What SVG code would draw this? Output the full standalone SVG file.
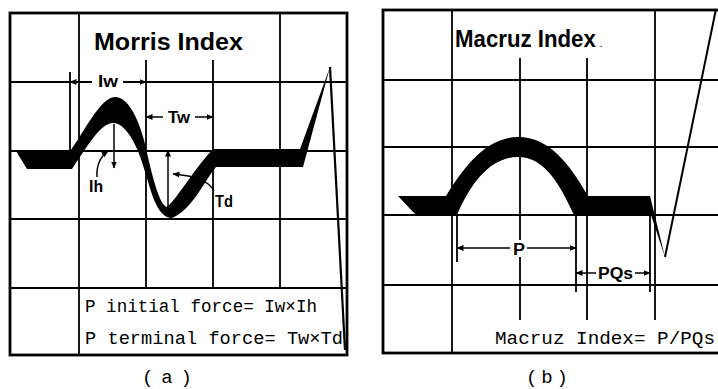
<svg xmlns="http://www.w3.org/2000/svg" width="718" height="389" viewBox="0 0 718 389">
<style>
.g{stroke:#000;stroke-width:1.8;fill:none}
.b{stroke:#000;stroke-width:2.8;fill:none}
.t{stroke:#000;stroke-width:1.5;fill:none}
.w{fill:#000;stroke:none}
.ttl{font-family:"Liberation Sans",Arial,sans-serif;font-weight:bold;font-size:23px;fill:#000}
.lb{font-family:"Liberation Sans",Arial,sans-serif;font-weight:bold;font-size:16px;fill:#000}
.mn{font-family:"Liberation Mono","Courier New",monospace;font-size:19px;fill:#000}
</style>
<defs>
<marker id="ah" markerUnits="userSpaceOnUse" markerWidth="7" markerHeight="6" refX="6.5" refY="3" orient="auto"><path d="M0,0 L7,3 L0,6 z" fill="#000"/></marker>
</defs>
<rect width="718" height="389" fill="#fff"/>

<g id="panel-a">
<g id="grid-a">
<rect class="b" x="10" y="13" width="337" height="342"/>
<path class="g" d="M10,82H347M10,151H347M10,219H347M10,288H347M79,13V355M146,60V288M213,60V288M280,13V288M70,72V151"/>
</g>
<g id="wave-a">
<path class="w" d="M16,151 L70,151 C82,136 100,97 115,97 C128,97 138,118 144,140 C150,165 158,205 167,207 C176,200 195,168 213,149 L300,149 L330,67 L303,167 L216,167 C205,180 192,210 172,218 C158,218 152,195 146,175 C140,152 128,123 113,123 C100,123 85,150 72,169 L27,169 Z"/>
<path d="M330,67 L345,350" stroke="#000" stroke-width="2.2" fill="none"/>
</g>
<g id="connectors-a">
<rect x="92" y="75" width="31" height="14" fill="#fff"/>
<line class="t" x1="92" y1="82" x2="70" y2="82" marker-end="url(#ah)"/>
<line class="t" x1="123" y1="82" x2="146" y2="82" marker-end="url(#ah)"/>
<line class="t" x1="163" y1="117" x2="146" y2="117" marker-end="url(#ah)"/>
<line class="t" x1="195" y1="117" x2="213" y2="117" marker-end="url(#ah)"/>
<line class="t" x1="114" y1="124" x2="114" y2="168" marker-end="url(#ah)"/>
<line class="t" x1="168" y1="213" x2="168" y2="150" marker-end="url(#ah)"/>
<path class="t" d="M97,177 Q96,160 108,151" marker-end="url(#ah)"/>
<path class="t" d="M214,191 C208,180 195,176 173,174" marker-end="url(#ah)"/>
</g>
<g id="labels-a">
<text class="ttl" x="94" y="50" textLength="149" lengthAdjust="spacingAndGlyphs">Morris Index</text>
<text class="lb" x="98" y="87" textLength="20" lengthAdjust="spacingAndGlyphs">Iw</text>
<text class="lb" x="168" y="123" textLength="22" lengthAdjust="spacingAndGlyphs">Tw</text>
<text class="lb" x="89" y="192" textLength="14" lengthAdjust="spacingAndGlyphs">Ih</text>
<text class="lb" x="215" y="207" textLength="18" lengthAdjust="spacingAndGlyphs">Td</text>
<text class="mn" x="85" y="312" textLength="232" lengthAdjust="spacingAndGlyphs">P initial force= Iw×Ih</text>
<text class="mn" x="85" y="344" textLength="258" lengthAdjust="spacingAndGlyphs">P terminal force= Tw×Td</text>
<text class="mn" x="142" y="383" font-size="18" textLength="50" lengthAdjust="spacing">(a)</text>
</g>
</g>

<g id="panel-b">
<g id="grid-b">
<rect class="b" x="383" y="10" width="340" height="343"/>
<path class="g" d="M383,80H718M383,147H718M383,215H718M383,285H718M452,10V353M520,58V320M587,58V320M655,10V320M457,215V262M576,215V292M650,215V292"/>
</g>
<g id="wave-b">
<path class="w" d="M398,196 L446,196 C462,170 485,137 518,137 C550,137 570,165 588,196 L650,196 L665,257 L651,215 L574,215 C560,185 545,157 518,157 C492,157 472,180 457,215 L416,215 Z"/>
<path d="M665,257 L716,9" stroke="#000" stroke-width="2" fill="none"/>
</g>
<g id="connectors-b">
<rect x="510" y="240" width="17" height="17" fill="#fff"/>
<line class="t" x1="510" y1="248" x2="457" y2="248" marker-end="url(#ah)"/>
<line class="t" x1="527" y1="248" x2="576" y2="248" marker-end="url(#ah)"/>
<line class="t" x1="596" y1="273" x2="576" y2="273" marker-end="url(#ah)"/>
<line class="t" x1="635" y1="273" x2="650" y2="273" marker-end="url(#ah)"/>
</g>
<g id="labels-b">
<text class="ttl" x="455" y="47" textLength="143" lengthAdjust="spacingAndGlyphs">Macruz Index<tspan x="600" font-size="8">.</tspan></text>
<text class="lb" x="513" y="255" textLength="12" lengthAdjust="spacingAndGlyphs">P</text>
<text class="lb" x="598" y="279" textLength="35" lengthAdjust="spacingAndGlyphs">PQs</text>
<text class="mn" x="495" y="344" textLength="220" lengthAdjust="spacingAndGlyphs">Macruz Index= P/PQs</text>
<text class="mn" x="526" y="383" font-size="18" textLength="42" lengthAdjust="spacing">(b)</text>
</g>
</g>
</svg>
